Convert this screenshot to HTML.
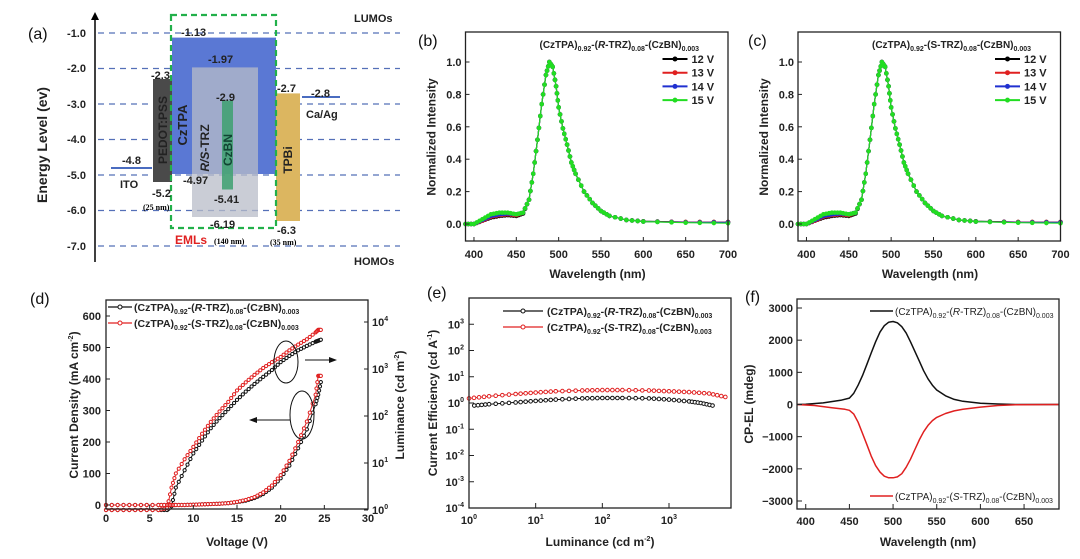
<!DOCTYPE html>
<html><head><meta charset="utf-8"><style>
html,body{margin:0;padding:0;background:#fff;}
svg{display:block;font-family:"Liberation Sans",Arial,sans-serif;}
.t{font-size:11px;font-weight:bold;fill:#222;}
.ti{font-size:12px;font-weight:bold;fill:#222;}
.lab{font-size:16px;fill:#111;}
</style></head><body>
<svg id="fig" width="1080" height="559" viewBox="0 0 1080 559" xmlns="http://www.w3.org/2000/svg">
<rect width="1080" height="559" fill="#fff"/>
<g>
  <text class="lab" x="28" y="39">(a)</text>
  <line x1="95" y1="262" x2="95" y2="18" stroke="#000" stroke-width="1.5"/>
  <polygon points="95,12 91,20 99,20" fill="#000"/>
  <g stroke="#5570b8" stroke-dasharray="6,5" stroke-width="1.2">
    <line x1="98" y1="33" x2="400" y2="33"/><line x1="98" y1="68.5" x2="400" y2="68.5"/>
    <line x1="98" y1="104" x2="400" y2="104"/><line x1="98" y1="139.5" x2="400" y2="139.5"/>
    <line x1="98" y1="175" x2="400" y2="175"/><line x1="98" y1="210.5" x2="400" y2="210.5"/>
    <line x1="98" y1="246" x2="400" y2="246"/>
  </g>
  <g class="t" text-anchor="end">
    <text x="86" y="37">-1.0</text><text x="86" y="72">-2.0</text><text x="86" y="108">-3.0</text>
    <text x="86" y="143">-4.0</text><text x="86" y="179">-5.0</text><text x="86" y="214">-6.0</text><text x="86" y="250">-7.0</text>
  </g>
  <text class="ti" transform="translate(47,145) rotate(-90)" text-anchor="middle" style="font-size:14px">Energy Level (ev)</text>
  <text class="t" x="354" y="22">LUMOs</text>
  <text class="t" x="354" y="265">HOMOs</text>
  <rect x="153" y="79" width="19" height="103" fill="#4a4a4a"/>
  <rect x="172" y="37.6" width="104" height="136.4" fill="#5a78d4"/>
  <rect x="192" y="67.4" width="66" height="149.6" fill="#b8bcc8" opacity="0.75"/>
  <rect x="222" y="100.5" width="11" height="89" fill="#3da070" opacity="0.85"/>
  <rect x="276" y="93.4" width="24" height="127.6" fill="#dcb660"/>
  <line x1="111" y1="168" x2="152" y2="168" stroke="#4a6cc0" stroke-width="2"/>
  <line x1="302" y1="97" x2="340" y2="97" stroke="#4a6cc0" stroke-width="2"/>
  <rect x="171" y="15" width="105" height="213" fill="none" stroke="#22b04a" stroke-width="2.2" stroke-dasharray="6,4"/>
  <g class="t">
    <text x="181" y="36">-1.13</text><text x="208" y="63">-1.97</text><text x="151" y="79">-2.3</text>
    <text x="216" y="101">-2.9</text><text x="277" y="92">-2.7</text><text x="311" y="97">-2.8</text>
    <text x="306" y="118">Ca/Ag</text><text x="122" y="164">-4.8</text><text x="120" y="188">ITO</text>
    <text x="183" y="184">-4.97</text><text x="152" y="197">-5.2</text><text x="214" y="203">-5.41</text>
    <text x="210" y="228">-6.19</text><text x="277" y="234">-6.3</text>
  </g>
  <text x="143" y="210" style="font:bold 8px 'Liberation Serif',serif">(25 nm)</text>
  <text x="270" y="245" style="font:bold 8px 'Liberation Serif',serif">(35 nm)</text>
  <text x="175" y="244" style="font:bold 12px 'Liberation Sans',sans-serif;fill:#e02020">EMLs</text>
  <text x="214" y="244" style="font:bold 8px 'Liberation Serif',serif">(140 nm)</text>
  <g class="ti" text-anchor="middle">
    <text transform="translate(167,130) rotate(-90)">PEDOT:PSS</text>
    <text transform="translate(187,125) rotate(-90)" style="font-size:13px">CzTPA</text>
    <text transform="translate(209,148) rotate(-90)"><tspan font-style="italic">R/S</tspan>-TRZ</text>
    <text transform="translate(232,150) rotate(-90)" style="fill:#143">CzBN</text>
    <text transform="translate(292,160) rotate(-90)">TPBi</text>
  </g>
</g>
<g id="charts"></g>
</svg>
<script>
const specWl = [390,400,410,420,430,440,450,458,465,470,475,480,485,489,493,497,500,505,510,515,520,530,540,550,560,580,600,650,700];
const spec15 = [0.0,0.0,0.03,0.06,0.07,0.07,0.06,0.07,0.15,0.31,0.52,0.74,0.92,1.0,0.97,0.85,0.72,0.59,0.49,0.38,0.31,0.2,0.13,0.08,0.05,0.025,0.015,0.008,0.005];
const spec14 = [0.0,0.0,0.025,0.05,0.06,0.065,0.06,0.07,0.15,0.31,0.52,0.74,0.92,1.0,0.97,0.85,0.72,0.59,0.49,0.38,0.31,0.2,0.13,0.08,0.05,0.025,0.015,0.01,0.01];
const spec13 = [0.0,0.0,0.02,0.045,0.055,0.06,0.055,0.07,0.15,0.31,0.52,0.74,0.92,1.0,0.97,0.85,0.72,0.59,0.49,0.38,0.31,0.2,0.13,0.08,0.05,0.025,0.015,0.012,0.012];
const spec12 = [0.0,0.0,0.02,0.04,0.05,0.055,0.05,0.065,0.15,0.31,0.52,0.74,0.92,1.0,0.97,0.85,0.72,0.59,0.49,0.38,0.31,0.2,0.13,0.08,0.05,0.025,0.017,0.012,0.012];
const specCol = ['#000000','#e02020','#2030d0','#22dd22'];
const specLabels = ['12 V','13 V','14 V','15 V'];
const xTicksSpec = [400,450,500,550,600,650,700];
const yTicksSpec = [0.0,0.2,0.4,0.6,0.8,1.0];

const dV = [0,2,4,6,7,7.5,8,9,10,11,12,13,14,15,16,17,18,19,20,21,22,23,24,24.3,24.6];
const lumR = [1,1,1,1,1,1.2,3,7,16,30,55,90,140,220,330,480,680,950,1400,1900,2500,3100,3800,4000,4200];
const lumS = [1,1,1,1,1.1,3,6,12,22,42,75,125,200,350,520,750,1050,1400,1800,2500,3300,4300,6000,6800,6800];
const jR = [0,0,0,0,0,0,0,0,1,2,3,4,6,9,14,22,35,55,85,125,180,240,320,350,390];
const jS = [0,0,0,0,0,0,0,0,1,2,3,4,6,10,16,25,40,62,95,140,200,265,350,410,410];
const xTicksD = [0,5,10,15,20,25,30];
const yTicksD = [0,100,200,300,400,500,600];
const yTicksLum = [0,1,2,3,4];

const lumE_R = [1.2,2,5,10,20,50,100,200,500,1000,2000,3000,4500];
const ceR = [0.8,0.9,1.05,1.2,1.35,1.5,1.55,1.55,1.5,1.35,1.15,1.0,0.8];
const lumE_S = [1,2,5,10,20,50,100,200,500,1000,2000,4000,7000];
const ceS = [1.5,1.8,2.2,2.5,2.8,3.0,3.1,3.1,3.0,2.8,2.6,2.3,1.7];
const yTicksE = [-4,-3,-2,-1,0,1,2,3];
const xTicksE = [0,1,2,3];

const cpWlR = [390,400,420,440,450,455,460,465,470,475,480,485,490,495,500,505,510,515,520,525,530,535,540,545,550,560,570,580,600,620,640,690];
const cpR = [0,10,50,130,200,350,600,900,1250,1600,1950,2250,2450,2560,2580,2540,2420,2220,1950,1650,1350,1050,800,600,450,270,160,100,40,15,0,0];
const cpWlS = [390,410,430,445,450,455,460,465,470,475,480,485,490,495,500,505,510,515,520,525,530,535,540,545,550,560,570,580,600,620,640,690];
const cpS = [0,-30,-100,-150,-180,-300,-550,-900,-1250,-1600,-1900,-2100,-2230,-2280,-2280,-2250,-2150,-1950,-1700,-1400,-1100,-850,-650,-500,-400,-280,-200,-150,-80,-30,-5,0];
const xTicksF = [400,450,500,550,600,650];
const yTicksF = [-3000,-2000,-1000,0,1000,2000,3000];

const NS = 'http://www.w3.org/2000/svg';
const root = document.getElementById('charts');
function mk(parent, tag, attrs, name, inter) {
  const el = document.createElementNS(NS, tag);
  for (const k in attrs) el.setAttribute(k, attrs[k]);
  
  
  parent.appendChild(el);
  return el;
}
function txt(parent, x, y, s, name, extra) {
  const t = mk(parent, 'text', Object.assign({x: x, y: y, class: 't'}, extra || {}), name, false);
  t.innerHTML = s;
  return t;
}
function linScale(d0, d1, r0, r1) { return v => r0 + (v - d0) * (r1 - r0) / (d1 - d0); }
function path(xs, ys, sx, sy) { return xs.map((v, i) => (i ? 'L' : 'M') + sx(v).toFixed(1) + ',' + sy(ys[i]).toFixed(1)).join(''); }
function box(g, x0, y0, x1, y1, name) {
  mk(g, 'rect', {x: x0, y: y0, width: x1 - x0, height: y1 - y0, fill: 'none', stroke: '#222', 'stroke-width': 1.3}, name, false);
}
function markers(g, xs, ys, sx, sy, col, name, r, hollow) {
  xs.forEach((v, i) => {
    mk(g, 'circle', {cx: sx(v), cy: sy(ys[i]), r: r, fill: hollow ? '#fff' : col, stroke: col, 'stroke-width': 1}, name, false);
  });
}
function dense(xs, ys, n) {
  const ox = [], oy = [];
  for (let i = 0; i < xs.length - 1; i++) for (let k = 0; k < n; k++) { const f = k / n; ox.push(xs[i] + (xs[i+1]-xs[i]) * f); oy.push(ys[i] + (ys[i+1]-ys[i]) * f); }
  ox.push(xs[xs.length-1]); oy.push(ys[ys.length-1]);
  return [ox, oy];
}
const LEG_CHEM = (m) => '(CzTPA)<tspan font-size="7" dy="3">0.92</tspan><tspan dy="-3">-(</tspan><tspan font-style="italic">' + m + '</tspan>-TRZ)<tspan font-size="7" dy="3">0.08</tspan><tspan dy="-3">-(CzBN)</tspan><tspan font-size="7" dy="3">0.003</tspan>';

function spectrum(x0, label, mode, pname, lx) {
  const g = mk(root, 'g', {}, pname, false);
  const sx = linScale(390, 700, x0, x0 + 262.5);
  const sy = linScale(0, 1, 224, 62);
  txt(g, lx, 46, label, pname + '-label', {class: 'lab'});
  const series = [spec12, spec13, spec14, spec15];
  series.forEach((s, i) => {
    mk(g, 'path', {d: path(specWl, s, sx, sy), fill: 'none', stroke: specCol[i], 'stroke-width': 1.2}, 'spectrum-line-' + specLabels[i].replace(' ', '').toLowerCase(), false);
    const dd = dense(specWl, s, 3);
    markers(g, dd[0], dd[1], sx, sy, specCol[i], 'spectrum-marker', 1.8, false);
  });
  box(g, x0, 32, x0 + 262.5, 241, pname + '-plot-frame');
  xTicksSpec.forEach(v => {
    mk(g, 'line', {x1: sx(v), x2: sx(v), y1: 241, y2: 237, stroke: '#222'}, 'x-tick', false);
    txt(g, sx(v), 258, String(v), 'x-tick-label', {'text-anchor': 'middle'});
  });
  yTicksSpec.forEach(v => {
    mk(g, 'line', {x1: x0, x2: x0 + 4, y1: sy(v), y2: sy(v), stroke: '#222'}, 'y-tick', false);
    txt(g, x0 - 4, sy(v) + 4, v.toFixed(1), 'y-tick-label', {'text-anchor': 'end'});
  });
  txt(g, x0 + 132, 278, 'Wavelength (nm)', 'x-axis-title', {'text-anchor': 'middle', class: 'ti'});
  txt(g, 0, 0, 'Normalized Intensity', 'y-axis-title', {'text-anchor': 'middle', class: 'ti', transform: 'translate(' + (x0 - 30) + ',137) rotate(-90)'});
  const lt = txt(g, x0 + 74, 48, '', 'legend-title', {style: 'font-size:10px'});
  lt.innerHTML = '(CzTPA)<tspan font-size="7" dy="3">0.92</tspan><tspan dy="-3">-(</tspan>' + (mode === 'R' ? '<tspan font-style="italic">R</tspan>' : 'S') + '-TRZ)<tspan font-size="7" dy="3">0.08</tspan><tspan dy="-3">-(CzBN)</tspan><tspan font-size="7" dy="3">0.003</tspan>';
  specLabels.forEach((l, i) => {
    const y = 59 + i * 13.7;
    mk(g, 'line', {x1: x0 + 197, x2: x0 + 222, y1: y, y2: y, stroke: specCol[i], 'stroke-width': 2}, 'legend-line', false);
    mk(g, 'circle', {cx: x0 + 209.5, cy: y, r: 2.5, fill: specCol[i]}, 'legend-marker', false);
    txt(g, x0 + 226, y + 4, l, 'legend-entry', {});
  });
}
spectrum(465.5, '(b)', 'R', 'panel-b-spectrum', 418);
spectrum(798, '(c)', 'S', 'panel-c-spectrum', 748);

(function () {
  const g = mk(root, 'g', {}, 'panel-d-jvl', false);
  const sx = linScale(0, 30, 106, 368);
  const sy = linScale(0, 600, 505, 316);
  const syL = linScale(0, 4, 510, 322);
  txt(g, 30, 304, '(d)', 'panel-d-label', {class: 'lab'});
  [[lumR, '#111', 'luminance-r'], [lumS, '#e02020', 'luminance-s']].forEach(a => {
    const lg = a[0].map(v => Math.log10(v));
    const dd = dense(dV, lg, 3);
    mk(g, 'path', {d: path(dV, lg, sx, syL), fill: 'none', stroke: a[1], 'stroke-width': 1}, a[2] + '-line', false);
    markers(g, dd[0], dd[1], sx, syL, a[1], a[2] + '-marker', 1.6, true);
  });
  [[jR, '#111', 'current-density-r'], [jS, '#e02020', 'current-density-s']].forEach(a => {
    const dd = dense(dV, a[0], 3);
    mk(g, 'path', {d: path(dV, a[0], sx, sy), fill: 'none', stroke: a[1], 'stroke-width': 1}, a[2] + '-line', false);
    markers(g, dd[0], dd[1], sx, sy, a[1], a[2] + '-marker', 1.6, true);
  });
  box(g, 106, 300, 368, 509, 'panel-d-plot-frame');
  xTicksD.forEach(v => { mk(g, 'line', {x1: sx(v), x2: sx(v), y1: 509, y2: 505, stroke: '#222'}, 'x-tick', false); txt(g, sx(v), 522, String(v), 'x-tick-label', {'text-anchor': 'middle'}); });
  yTicksD.forEach(v => { mk(g, 'line', {x1: 106, x2: 110, y1: sy(v), y2: sy(v), stroke: '#222'}, 'y-tick', false); txt(g, 101, sy(v) + 4, String(v), 'y-tick-label', {'text-anchor': 'end'}); });
  yTicksLum.forEach(v => { mk(g, 'line', {x1: 364, x2: 368, y1: syL(v), y2: syL(v), stroke: '#222'}, 'y2-tick', false); const t = txt(g, 372, syL(v) + 4, '', 'y2-tick-label', {}); t.innerHTML = '10<tspan font-size="7" dy="-5">' + v + '</tspan>'; });
  txt(g, 237, 546, 'Voltage (V)', 'x-axis-title', {'text-anchor': 'middle', class: 'ti'});
  const yt = txt(g, 0, 0, '', 'y-axis-title', {'text-anchor': 'middle', class: 'ti', transform: 'translate(78,405) rotate(-90)'});
  yt.innerHTML = 'Current Density (mA cm<tspan font-size="7" dy="-5">-2</tspan><tspan dy="5">)</tspan>';
  const y2 = txt(g, 0, 0, '', 'y2-axis-title', {'text-anchor': 'middle', class: 'ti', transform: 'translate(404,405) rotate(-90)'});
  y2.innerHTML = 'Luminance (cd m<tspan font-size="7" dy="-5">-2</tspan><tspan dy="5">)</tspan>';
  mk(g, 'ellipse', {cx: 286, cy: 362, rx: 12, ry: 21, fill: 'none', stroke: '#111', 'stroke-width': 1}, 'luminance-ellipse', false);
  mk(g, 'ellipse', {cx: 302, cy: 415, rx: 12, ry: 24, fill: 'none', stroke: '#111', 'stroke-width': 1}, 'current-ellipse', false);
  mk(g, 'line', {x1: 305, x2: 330, y1: 360, y2: 360, stroke: '#111'}, 'arrow-right', false);
  mk(g, 'polygon', {points: '337,360 329,357 329,363', fill: '#111'}, 'arrow-right-head', false);
  mk(g, 'line', {x1: 290, x2: 256, y1: 420, y2: 420, stroke: '#111'}, 'arrow-left', false);
  mk(g, 'polygon', {points: '249,420 257,417 257,423', fill: '#111'}, 'arrow-left-head', false);
  [['R', '#111', 311], ['S', '#e02020', 327]].forEach(a => {
    mk(g, 'line', {x1: 108, x2: 132, y1: a[2] - 4, y2: a[2] - 4, stroke: a[1], 'stroke-width': 1.2}, 'legend-line', false);
    mk(g, 'circle', {cx: 120, cy: a[2] - 4, r: 2, fill: '#fff', stroke: a[1]}, 'legend-marker', false);
    const t = txt(g, 134, a[2], '', 'legend-entry', {style: 'font-size:10.5px'}); t.innerHTML = LEG_CHEM(a[0]);
  });
})();

(function () {
  const g = mk(root, 'g', {}, 'panel-e-efficiency', false);
  const sx = linScale(0, 3, 469, 669);
  const sy = linScale(-4, 4, 508, 298);
  txt(g, 427, 298, '(e)', 'panel-e-label', {class: 'lab'});
  [[lumE_R, ceR, '#111', 'efficiency-r'], [lumE_S, ceS, '#e02020', 'efficiency-s']].forEach(a => {
    const lx = a[0].map(v => Math.log10(v)), ly = a[1].map(v => Math.log10(v));
    const dd = dense(lx, ly, 4);
    mk(g, 'path', {d: path(lx, ly, sx, sy), fill: 'none', stroke: a[2], 'stroke-width': 1}, a[3] + '-line', false);
    markers(g, dd[0], dd[1], sx, sy, a[2], a[3] + '-marker', 1.8, true);
  });
  box(g, 469, 298, 731, 508, 'panel-e-plot-frame');
  xTicksE.forEach(v => { mk(g, 'line', {x1: sx(v), x2: sx(v), y1: 508, y2: 503, stroke: '#222'}, 'x-tick', false); const t = txt(g, sx(v), 524, '', 'x-tick-label', {'text-anchor': 'middle'}); t.innerHTML = '10<tspan font-size="7" dy="-5">' + v + '</tspan>'; });
  yTicksE.forEach(v => { mk(g, 'line', {x1: 469, x2: 474, y1: sy(v), y2: sy(v), stroke: '#222'}, 'y-tick', false); const t = txt(g, 464, sy(v) + 4, '', 'y-tick-label', {'text-anchor': 'end'}); t.innerHTML = '10<tspan font-size="7" dy="-5">' + v + '</tspan>'; });
  const xt = txt(g, 600, 546, '', 'x-axis-title', {'text-anchor': 'middle', class: 'ti'});
  xt.innerHTML = 'Luminance (cd m<tspan font-size="7" dy="-5">-2</tspan><tspan dy="5">)</tspan>';
  const yt = txt(g, 0, 0, '', 'y-axis-title', {'text-anchor': 'middle', class: 'ti', transform: 'translate(437,403) rotate(-90)'});
  yt.innerHTML = 'Current Efficiency (cd A<tspan font-size="7" dy="-5">-1</tspan><tspan dy="5">)</tspan>';
  [['R', '#111', 315], ['S', '#e02020', 331]].forEach(a => {
    mk(g, 'line', {x1: 503, x2: 543, y1: a[2] - 4, y2: a[2] - 4, stroke: a[1], 'stroke-width': 1.2}, 'legend-line', false);
    mk(g, 'circle', {cx: 523, cy: a[2] - 4, r: 2, fill: '#fff', stroke: a[1]}, 'legend-marker', false);
    const t = txt(g, 547, a[2], '', 'legend-entry', {style: 'font-size:10.5px'}); t.innerHTML = LEG_CHEM(a[0]);
  });
})();

(function () {
  const g = mk(root, 'g', {}, 'panel-f-cpel', false);
  const sx = linScale(390, 690, 797, 1059);
  const sy = linScale(-3000, 3000, 501, 308);
  txt(g, 745, 302, '(f)', 'panel-f-label', {class: 'lab'});
  mk(g, 'path', {d: path(cpWlR, cpR, sx, sy), fill: 'none', stroke: '#111', 'stroke-width': 1.5, 'stroke-linejoin': 'round'}, 'cpel-line-r', false);
  mk(g, 'path', {d: path(cpWlS, cpS, sx, sy), fill: 'none', stroke: '#e02020', 'stroke-width': 1.5, 'stroke-linejoin': 'round'}, 'cpel-line-s', false);
  box(g, 797, 299, 1059, 509, 'panel-f-plot-frame');
  xTicksF.forEach(v => { mk(g, 'line', {x1: sx(v), x2: sx(v), y1: 509, y2: 504, stroke: '#222'}, 'x-tick', false); txt(g, sx(v), 525, String(v), 'x-tick-label', {'text-anchor': 'middle'}); });
  yTicksF.forEach(v => { mk(g, 'line', {x1: 797, x2: 802, y1: sy(v), y2: sy(v), stroke: '#222'}, 'y-tick', false); txt(g, 793, sy(v) + 4, String(v).replace('-', '−'), 'y-tick-label', {'text-anchor': 'end'}); });
  txt(g, 928, 546, 'Wavelength (nm)', 'x-axis-title', {'text-anchor': 'middle', class: 'ti'});
  txt(g, 0, 0, 'CP-EL (mdeg)', 'y-axis-title', {'text-anchor': 'middle', class: 'ti', transform: 'translate(753,404) rotate(-90)'});
  [['R', '#111', 315, 'legend-entry-r'], ['S', '#e02020', 500, 'legend-entry-s']].forEach(a => {
    mk(g, 'line', {x1: 870, x2: 893, y1: a[2] - 4, y2: a[2] - 4, stroke: a[1], 'stroke-width': 1.5}, 'legend-line', false);
    const t = txt(g, 895, a[2], '', a[3], {style: 'font-size:10px;font-weight:normal'}); t.innerHTML = LEG_CHEM(a[0]);
  });
})();
</script>
</body></html>
